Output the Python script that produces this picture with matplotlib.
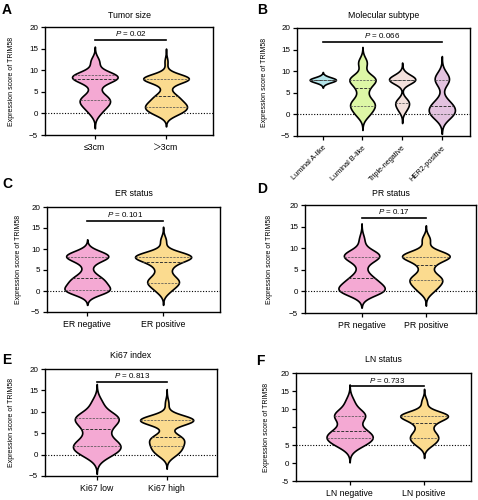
import numpy as np
import matplotlib.pyplot as plt

plt.rcParams['font.family'] = ['Liberation Sans', 'DejaVu Sans', 'Noto Sans CJK SC']
plt.rcParams['mathtext.fontset'] = 'custom'
plt.rcParams['mathtext.it'] = 'Liberation Sans:italic'
plt.rcParams['mathtext.rm'] = 'Liberation Sans'

# IHC score levels and number of patients at each level
score_levels = [0, 1, 2, 3, 4, 6, 8, 9, 12]

size_le3 = [2, 2, 4, 5, 4, 2, 10, 8, 3]
size_gt3 = [5, 6, 7, 3, 5, 2, 14, 2, 1]

lum_a = [0, 0, 0, 0, 0, 0, 4, 0, 0]
lum_b = [2, 1, 3, 2, 1, 2, 5, 1, 2]
triple_neg = [0, 1, 1, 2, 0, 0, 5, 1, 0]
her2_pos = [4, 1, 3, 1, 0, 0, 3, 1, 0]

er_neg = [10, 3, 5, 4, 2, 2, 9, 5, 0]
er_pos = [3, 2, 7, 3, 3, 5, 16, 5, 2]

pr_neg = [12, 5, 5, 4, 2, 2, 10, 5, 2]
pr_pos = [3, 3, 5, 6, 3, 4, 14, 5, 3]

ki67_low = [4, 4, 6, 4, 2, 5, 6, 7, 3]
ki67_high = [3, 3, 4, 3, 6, 1, 14, 2, 1]

ln_neg = [5, 4, 7, 5, 5, 3, 7, 5, 3]
ln_pos = [3, 3, 5, 3, 3, 5, 14, 4, 2]

titles = ['Tumor size', 'Molecular subtype', 'ER status', 'PR status', 'Ki67 index', 'LN status']
letters = ['A', 'B', 'C', 'D', 'E', 'F']
group_labels = [['≤3cm', '＞3cm'],
                ['Luminal A-like', 'Luminal B-like', 'Triple-negative', 'HER2-positive'],
                ['ER negative', 'ER positive'],
                ['PR negative', 'PR positive'],
                ['Ki67 low', 'Ki67 high'],
                ['LN negative', 'LN positive']]
group_counts = [[size_le3, size_gt3],
                [lum_a, lum_b, triple_neg, her2_pos],
                [er_neg, er_pos],
                [pr_neg, pr_pos],
                [ki67_low, ki67_high],
                [ln_neg, ln_pos]]
p_values = ['0.02', '0.066', '0.101', '0.17', '0.813', '0.733']

# styling / layout
pink, yellow = '#F4A9D3', '#FBDB8F'
colors = [[pink, yellow],
          ['#B5E5EA', '#DDF7A6', '#F3E0DC', '#E3C2DF'],
          [pink, yellow], [pink, yellow], [pink, yellow], [pink, yellow]]
bandwidths = [[1.15, 1.0], [0.6, 1.2, 1.0, 1.5], [1.1, 1.1],
              [1.25, 1.1], [1.5, 1.1], [1.6, 1.2]]
half_w = [[0.32, 0.32], [0.33] * 4, [0.30, 0.37], [0.36, 0.37],
          [0.34, 0.38], [0.31, 0.32]]
# axes boxes in pixels: left, right, top, bottom
boxes = [(45, 213, 27, 135), (297, 470, 28, 136), (47, 220, 207, 312),
         (305, 476, 205, 313), (45, 217, 369, 476), (296, 471, 373, 481)]
xlims = [(-0.70, 1.66), (-0.65, 3.71), (-0.53, 1.75), (-0.88, 1.78),
         (-0.74, 1.72), (-0.72, 1.63)]
letter_pos = [(2, 14), (257, 14), (2, 188), (257, 193), (2, 364), (256, 365)]
title_y = [15, 15, 194, 193, 355, 360]
ylabel_x = [15, 268, 22, 273, 15, 270]
bracket_y = [17.0, 16.8, 16.7, 17.0, 16.9, 16.3]

W, H = 478, 500
fig = plt.figure(figsize=(W / 100, H / 100), dpi=100)


def kde(values, bw, grid):
    d = np.exp(-0.5 * ((grid[:, None] - values[None, :]) / bw) ** 2).sum(axis=1)
    return d / d.max()


for i in range(6):
    l, r, t, b = boxes[i]
    ax = fig.add_axes([l / W, 1 - b / H, (r - l) / W, (b - t) / H])
    ax.set_xlim(*xlims[i])
    if i == 5:
        ax.set_ylim(-10, 20)
        ax.set_yticks([-10, -5, 0, 5, 10, 15, 20])
        ax.set_yticklabels(['-5', '0', '5', '', '10', '15', '20'])
    else:
        ax.set_ylim(-5, 20)
        ax.set_yticks([-5, 0, 5, 10, 15, 20])
    ax.axhline(0, color='black', ls=(0, (1, 1.5)), lw=0.8, zorder=0)

    for j, counts in enumerate(group_counts[i]):
        vals = np.repeat(score_levels, counts).astype(float)
        bw = bandwidths[i][j]
        grid = np.linspace(vals.min() - 3 * bw, vals.max() + 3 * bw, 300)
        dens = kde(vals, bw, grid)
        w = half_w[i][j]
        ax.fill_betweenx(grid, j - w * dens, j + w * dens, facecolor=colors[i][j],
                         edgecolor='black', lw=1.2, zorder=2)
        qs = np.percentile(vals, [25, 50, 75], method='weibull')
        for k, q in enumerate(qs):
            wq = w * np.interp(q, grid, dens)
            ax.plot([j - wq, j + wq], [q, q], color='#333333' if k == 1 else '#555555',
                    ls=(0, (3, 1.5)), lw=0.7 if k == 1 else 0.55, zorder=3)

    n = len(group_counts[i])
    ax.plot([0, n - 1], [bracket_y[i], bracket_y[i]], color='black', lw=1.2)
    ax.text((n - 1) / 2, bracket_y[i] + 0.5, r'$\it{P}$ = ' + p_values[i],
            ha='center', va='bottom', fontsize=5.8)

    ax.set_xticks(range(n))
    if i == 1:
        ax.set_xticklabels(group_labels[i], rotation=45, ha='right',
                           rotation_mode='anchor', fontsize=5.3)
    else:
        ax.set_xticklabels(group_labels[i], fontsize=6.3)
    ax.tick_params(axis='y', labelsize=5.8, length=3, width=0.9, pad=2)
    ax.tick_params(axis='x', length=3, width=0.9, pad=3)
    for s in ax.spines.values():
        s.set_linewidth(1.0)

    ax.set_ylabel('Expression score of TRIM58', fontsize=5)
    ax.yaxis.set_label_coords((ylabel_x[i] - l) / (r - l), 0.5)

    fig.text((l + r) / 2 / W, 1 - title_y[i] / H, titles[i], ha='center', va='center',
             fontsize=6.3)
    fig.text(letter_pos[i][0] / W, 1 - letter_pos[i][1] / H, letters[i],
             fontsize=10, fontweight='bold', ha='left', va='baseline')

fig.savefig('out.png', dpi=100)
